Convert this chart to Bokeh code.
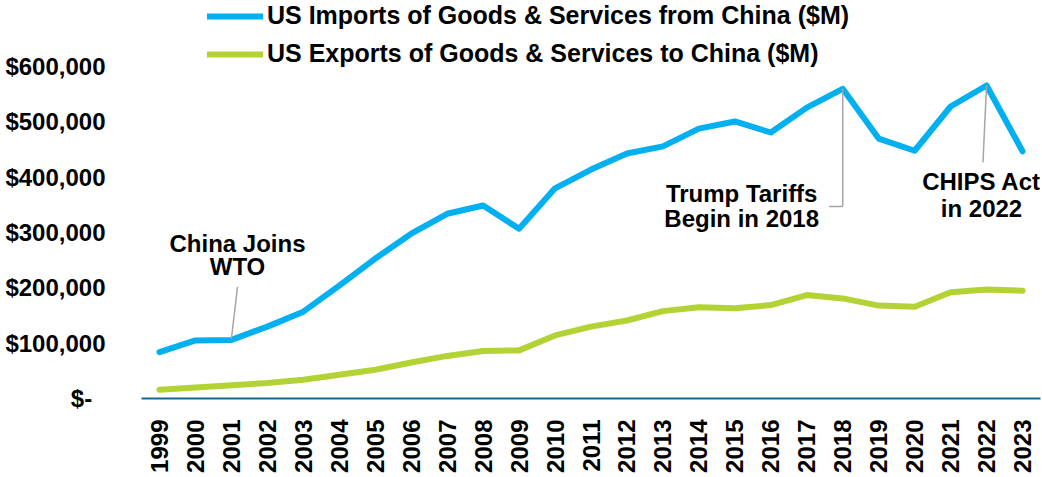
from bokeh.plotting import figure
from bokeh.models import Range1d, FixedTicker, Legend, LegendItem, ColumnDataSource
from bokeh.core.properties import value
from bokeh.embed import file_html
from bokeh.resources import INLINE
import math

years = list(range(1999, 2024))
imports = [84000, 105000, 106000, 130000, 157000, 204000, 253000, 298000, 334000, 349000,
           307000, 380000, 414000, 443000, 456000, 488000, 501000, 481000, 526000, 560000,
           470000, 448000, 528000, 566000, 447000]
exports = [16000, 20000, 24000, 28000, 34000, 43000, 52000, 65000, 77000, 86000,
           87000, 114000, 130000, 141000, 158000, 165000, 163000, 169000, 187000, 181000,
           168000, 166000, 192000, 197000, 195000]
y_ticks = [0, 100000, 200000, 300000, 400000, 500000, 600000]
y_labels = ["$-\u00a0\u00a0", "$100,000", "$200,000", "$300,000", "$400,000", "$500,000", "$600,000"]
series_names = ["US Imports of Goods & Services from China ($M)",
                "US Exports of Goods & Services to China ($M)"]

FONT = "Liberation Sans"
BLUE = "#00B0F0"
GREEN = "#B3D335"
GREY = "#A6A6A6"

p = figure(width=1042, height=477, output_backend="svg", toolbar_location=None,
           x_range=Range1d(1998.5, 2023.5), y_range=Range1d(0, 719700),
           min_border_left=141, min_border_right=2, min_border_top=0, min_border_bottom=79)
p.outline_line_color = None
p.xgrid.grid_line_color = None
p.ygrid.grid_line_color = None
p.background_fill_color = "white"
p.border_fill_color = "white"

src = ColumnDataSource(dict(year=years, imp=imports, exp=exports))
r1 = p.line("year", "imp", source=src, line_color=BLUE, line_width=6,
            line_cap="round", line_join="round")
r2 = p.line("year", "exp", source=src, line_color=GREEN, line_width=6,
            line_cap="round", line_join="round")

# axes
xa = p.xaxis[0]
xa.ticker = FixedTicker(ticks=years)
xa.major_label_orientation = math.pi / 2
xa.major_tick_line_color = None
xa.minor_tick_line_color = None
xa.axis_line_color = "#1F6391"
xa.axis_line_width = 2
xa.major_label_text_font = FONT
xa.major_label_text_font_style = "bold"
xa.major_label_text_font_size = "24px"
xa.major_label_text_color = "black"
xa.major_label_standoff = 15

ya = p.yaxis[0]
ya.ticker = FixedTicker(ticks=y_ticks)
ya.major_label_overrides = {t: l for t, l in zip(y_ticks, y_labels)}
ya.axis_line_color = None
ya.major_tick_line_color = None
ya.minor_tick_line_color = None
ya.major_label_text_font = FONT
ya.major_label_text_font_style = "bold"
ya.major_label_text_font_size = "24px"
ya.major_label_text_color = "black"
ya.major_label_standoff = 30

# annotations: leader lines
i01 = years.index(2001)
i18 = years.index(2018)
i22 = years.index(2022)
p.segment(x0=[2001.17, 2018, 2018, 2022],
          y0=[202000, imports[i18], 347000, imports[i22]],
          x1=[years[i01], 2018, 2017.62, 2021.9],
          y1=[imports[i01] + 2000, 347000, 347000, 427000],
          line_color=GREY, line_width=1.5)

ann_lines = ["China Joins", "WTO", "Trump Tariffs", "Begin in 2018", "CHIPS Act", "in 2022"]
p.text(x=[2001.17, 2001.17, 2015.19, 2015.19, 2021.86, 2021.86],
       y=[280000, 239000, 371000, 325000, 392000, 344000],
       text=ann_lines, text_font=value(FONT), text_font_style="bold",
       text_font_size="24px", text_color="black",
       text_align="center", text_baseline="middle")

legend = Legend(items=[LegendItem(label=series_names[0], renderers=[r1]),
                       LegendItem(label=series_names[1], renderers=[r2])],
                location=(66, 330), orientation="vertical",
                border_line_color=None, background_fill_alpha=0,
                padding=0, margin=0, spacing=9,
                glyph_width=56, glyph_height=24, label_height=24, label_standoff=4,
                label_text_font=FONT, label_text_font_style="bold",
                label_text_font_size="25px", label_text_color="black")
p.add_layout(legend)

open("out.html", "w").write(file_html(p, INLINE))
